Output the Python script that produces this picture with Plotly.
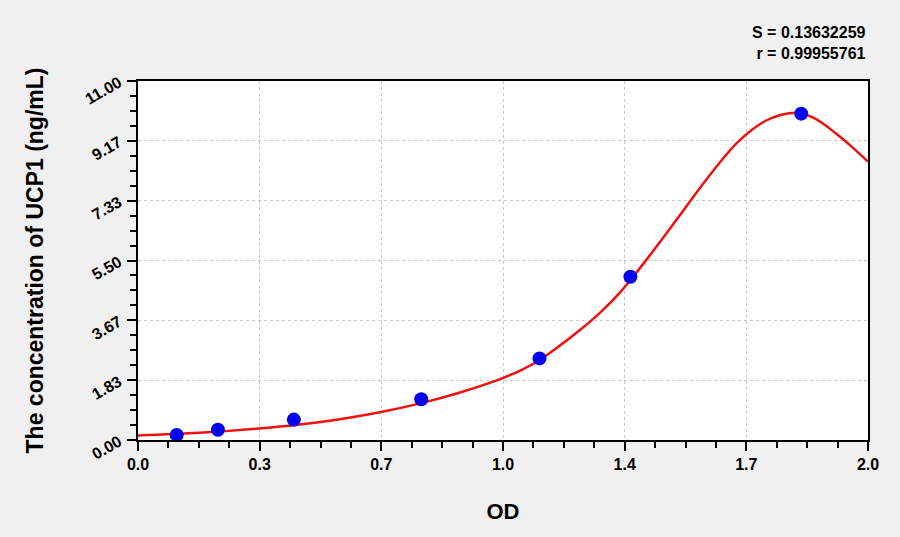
import plotly.graph_objects as go

# standard points (OD vs concentration)
od = [0.106, 0.219, 0.427, 0.776, 1.10, 1.349, 1.817]
conc = [0.156, 0.312, 0.625, 1.25, 2.5, 5.0, 10.0]

# fitted curve
curve_od = [0.0, 0.169, 0.331, 0.5, 0.666, 0.776, 0.88, 0.99, 1.05, 1.10,
            1.21, 1.264, 1.319, 1.349, 1.388, 1.429, 1.484, 1.538, 1.593,
            1.639, 1.684, 1.721, 1.758, 1.79, 1.817, 1.85, 1.885, 1.92,
            1.958, 2.0]
curve_conc = [0.14, 0.22, 0.35, 0.55, 0.86, 1.13, 1.45, 1.86, 2.14, 2.45,
              3.36, 3.88, 4.50, 4.90, 5.45, 6.05, 6.88, 7.70, 8.49,
              9.08, 9.52, 9.79, 9.95, 10.02, 10.0, 9.88, 9.63, 9.32,
              8.96, 8.53]

x_tick_vals = [0, 1/3, 2/3, 1.0, 4/3, 5/3, 2.0]
x_tick_text = ["0.0", "0.3", "0.7", "1.0", "1.4", "1.7", "2.0"]
y_tick_vals = [0, 11/6, 11/3, 5.5, 22/3, 55/6, 11.0]
y_tick_text = ["0.00", "1.83", "3.67", "5.50", "7.33", "9.17", "11.00"]

fig = go.Figure()
fig.add_trace(go.Scatter(x=curve_od, y=curve_conc, mode="lines",
                         line=dict(color="#f01010", width=2.5, shape="spline"),
                         showlegend=False))
fig.add_trace(go.Scatter(x=od, y=conc, mode="markers",
                         marker=dict(color="#0000ee", size=14),
                         showlegend=False))

font_main = "Liberation Sans, Arial, sans-serif"
axis_common = dict(
    showline=True, linecolor="black", linewidth=1.5, mirror=True,
    ticks="outside", ticklen=9, tickwidth=1.5, tickcolor="black",
    showgrid=True, gridcolor="#c8c8c8", griddash="dot", gridwidth=1,
    zeroline=False,
    tickfont=dict(family=font_main, size=16, color="black", weight="bold"),
)

fig.update_xaxes(
    range=[0, 2.0], tickvals=x_tick_vals, ticktext=x_tick_text,
    minor=dict(tick0=0, dtick=1/12, ticks="outside", ticklen=6,
               tickcolor="black", tickwidth=1.5, showgrid=False),
    title=dict(text="OD", standoff=32,
               font=dict(family=font_main, size=22, color="black", weight="bold")),
    **axis_common,
)
fig.update_yaxes(
    range=[0, 11.0], tickvals=y_tick_vals, ticktext=y_tick_text, tickangle=-30,
    ticklabelstandoff=5,
    minor=dict(tick0=0, dtick=11/24, ticks="outside", ticklen=6,
               tickcolor="black", tickwidth=1.5, showgrid=False),
    title=dict(text="The concentration of UCP1 (ng/mL)", standoff=32,
               font=dict(family=font_main, size=23, color="black", weight="bold")),
    **axis_common,
)

fig.add_annotation(xref="paper", yref="paper", x=1.0, y=1.0, yshift=59,
                   xanchor="right", yanchor="top", showarrow=False, align="right",
                   text="S = 0.13632259<br>r = 0.99955761",
                   font=dict(family=font_main, size=16, color="black", weight="bold"))

fig.update_layout(
    width=900, height=537,
    margin=dict(l=138, r=32, t=81, b=97),
    paper_bgcolor="#f0f0f0", plot_bgcolor="white",
)

fig.write_html("out.html", config={"displayModeBar": False},
               post_script="document.body.style.margin='0';")
